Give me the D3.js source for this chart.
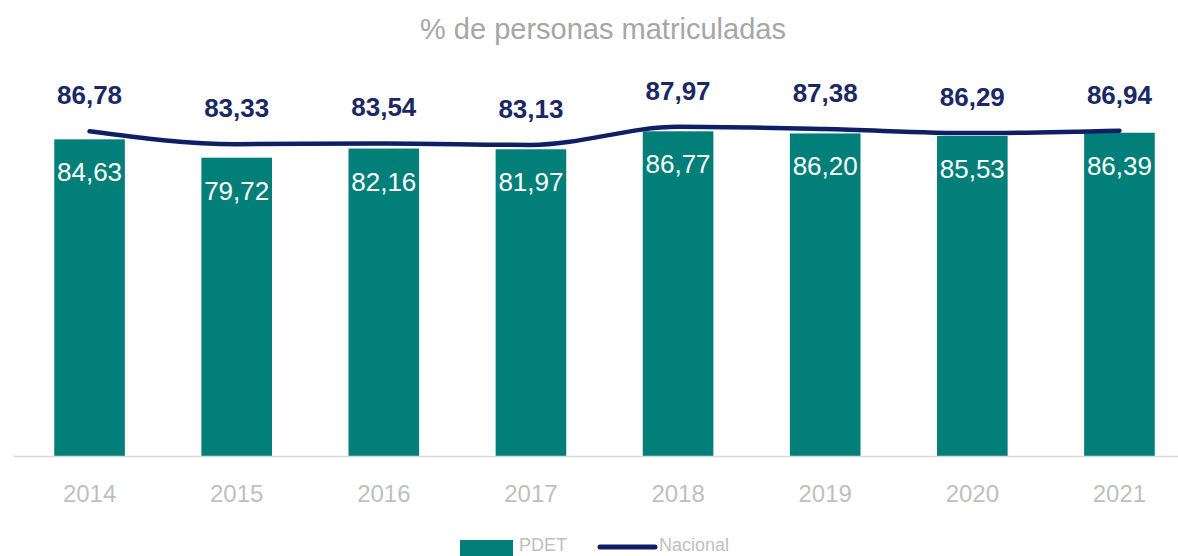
<!DOCTYPE html>
<html lang="es">
  <head>
    <meta charset="UTF-8" />
    <title>% de personas matriculadas</title>
    <style>
      body {
        margin: 0;
        background: #fff;
      }
      svg text {
        font-family: "Liberation Sans", Arial, sans-serif;
      }
    </style>
  </head>
  <body>
    <svg id="svg" width="1178" height="556"></svg>
    <script src="https://cdn.jsdelivr.net/npm/d3@7"></script>
    <script>
      // Data
      const years = ["2014", "2015", "2016", "2017", "2018", "2019", "2020", "2021"];
      const pdet = [84.63, 79.72, 82.16, 81.97, 86.77, 86.2, 85.53, 86.39];
      const nacional = [86.78, 83.33, 83.54, 83.13, 87.97, 87.38, 86.29, 86.94];

      const fmt = (v) => v.toFixed(2).replace(".", ",");

      const svg = d3.select("#svg");

      // Scales
      const x = d3
        .scaleBand()
        .domain(years)
        .range([16, 1193])
        .paddingInner(0.52)
        .paddingOuter(0.26);

      const y = d3.scaleLinear().domain([0, 100]).range([456, 81.8]);

      const rows = years.map((yr, i) => ({ year: yr, pdet: pdet[i], nac: nacional[i] }));

      // Title
      svg
        .append("text")
        .attr("x", 603)
        .attr("y", 39)
        .attr("text-anchor", "middle")
        .attr("fill", "#a6a6a6")
        .style("font-size", "29px")
        .text("% de personas matriculadas");

      // Bars
      svg
        .selectAll(".bar")
        .data(rows)
        .enter()
        .append("rect")
        .attr("class", "bar")
        .attr("x", (d) => x(d.year))
        .attr("y", (d) => y(d.pdet))
        .attr("width", x.bandwidth())
        .attr("height", (d) => y(0) - y(d.pdet))
        .attr("fill", "#037f7a");

      // x-axis
      const xaxis = svg
        .append("g")
        .attr("transform", `translate(0, ${y(0)})`)
        .call(d3.axisBottom(x).tickSize(0).tickSizeOuter(0));
      xaxis.select(".domain").remove();
      xaxis
        .selectAll("text")
        .attr("y", 46)
        .attr("dy", 0)
        .attr("fill", "#bfbfbf")
        .style("font-size", "24px")
        .style("font-family", "'Liberation Sans', Arial, sans-serif");

      // baseline
      svg
        .append("line")
        .attr("x1", 14)
        .attr("x2", 1178)
        .attr("y1", y(0) + 0.5)
        .attr("y2", y(0) + 0.5)
        .attr("stroke", "#d9d9d9")
        .attr("stroke-width", 1.5);

      // Bar labels
      svg
        .selectAll(".bar-label")
        .data(rows)
        .enter()
        .append("text")
        .attr("class", "bar-label")
        .attr("x", (d) => x(d.year) + x.bandwidth() / 2)
        .attr("y", (d) => y(d.pdet) + 42)
        .attr("text-anchor", "middle")
        .attr("fill", "#fff")
        .style("font-size", "26px")
        .text((d) => fmt(d.pdet));

      // Nacional line
      const line = d3
        .line()
        .x((d) => x(d.year) + x.bandwidth() / 2)
        .y((d) => y(d.nac))
        .curve(d3.curveMonotoneX);

      svg
        .append("path")
        .datum(rows)
        .attr("d", line)
        .attr("fill", "none")
        .attr("stroke", "#0f1f66")
        .attr("stroke-width", 4.5)
        .attr("stroke-linecap", "round");

      svg
        .selectAll(".line-label")
        .data(rows)
        .enter()
        .append("text")
        .attr("class", "line-label")
        .attr("x", (d) => x(d.year) + x.bandwidth() / 2)
        .attr("y", (d) => y(d.nac) - 27)
        .attr("text-anchor", "middle")
        .attr("fill", "#1a2866")
        .style("font-size", "26px")
        .style("font-weight", "bold")
        .text((d) => fmt(d.nac));

      // Legend
      const legend = svg.append("g");
      legend
        .append("rect")
        .attr("x", 460)
        .attr("y", 540)
        .attr("width", 53)
        .attr("height", 16)
        .attr("fill", "#037f7a");
      legend
        .append("text")
        .attr("x", 519)
        .attr("y", 551)
        .attr("fill", "#bfbfbf")
        .style("font-size", "18px")
        .text("PDET");
      legend
        .append("line")
        .attr("x1", 600)
        .attr("x2", 655)
        .attr("y1", 547)
        .attr("y2", 547)
        .attr("stroke", "#0f1f66")
        .attr("stroke-width", 5)
        .attr("stroke-linecap", "round");
      legend
        .append("text")
        .attr("x", 659)
        .attr("y", 551)
        .attr("fill", "#bfbfbf")
        .style("font-size", "18px")
        .text("Nacional");
    </script>
  </body>
</html>
